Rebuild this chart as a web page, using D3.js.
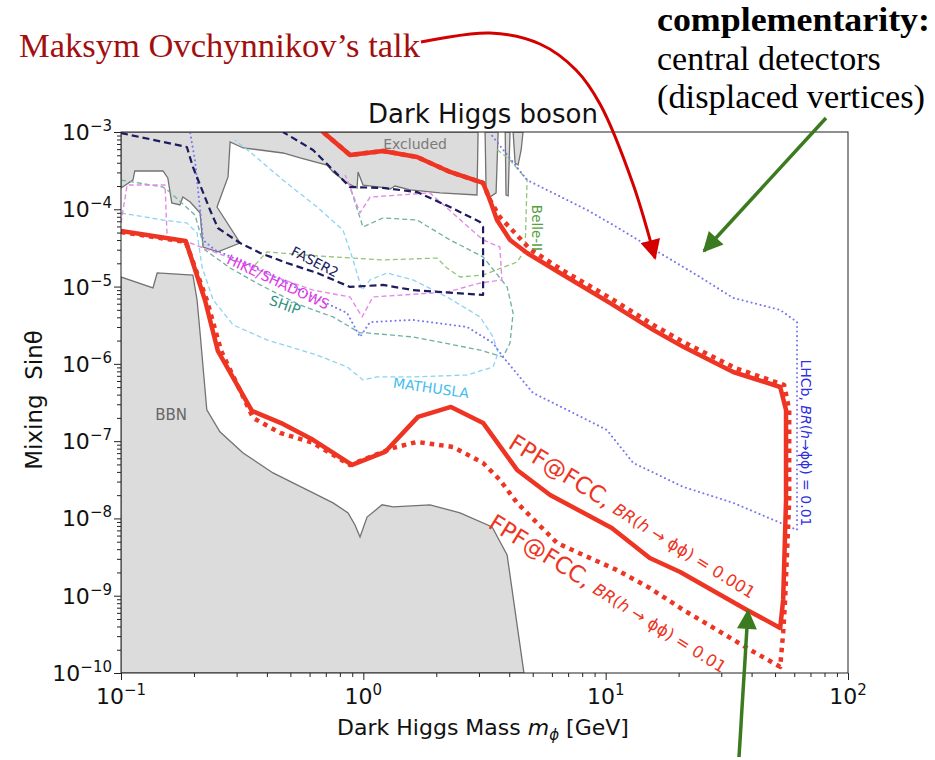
<!DOCTYPE html>
<html>
<head>
<meta charset="utf-8">
<script src="https://cdn.jsdelivr.net/npm/d3@7"></script>
<style>
  body { margin: 0; background: #fff; }
  svg { display: block; font-family: "DejaVu Sans", sans-serif; }
</style>
</head>
<body>
<svg id="chart" width="935" height="760"></svg>
<script>
// ---- data: [mass GeV, mixing sin(theta)] ----
const fpfSolid = [
  [0.682, 1.0e-3], [0.881, 5.04e-4], [1.205, 5.68e-4], [1.666, 4.75e-4], [2.28, 3.04e-4],
  [3.12, 2.19e-4], [3.33, 1.32e-4], [3.56, 7.27e-5], [4.03, 4.01e-5], [4.74, 2.72e-5],
  [6.48, 1.50e-5], [10.4, 6.14e-6], [15.7, 2.75e-6], [20.9, 1.66e-6], [33.6, 7.85e-7],
  [52.5, 5.02e-7], [55.5, 2.54e-7], [55.5, 1.73e-8], [54.0, 8.83e-10], [52.5, 3.83e-10],
  [38.3, 6.55e-10], [20.3, 2.03e-9], [15.2, 3.08e-9], [10.6, 7.53e-9], [5.90, 2.01e-8],
  [4.31, 4.24e-8], [3.12, 1.72e-7], [2.30, 2.77e-7], [1.681, 2.06e-7], [1.229, 7.25e-8],
  [0.898, 4.92e-8], [0.620, 1.04e-7], [0.466, 1.67e-7], [0.347, 2.46e-7], [0.251, 1.47e-6],
  [0.222, 6.71e-6], [0.185, 3.89e-5], [0.1, 5.24e-5]
];
const fpfDotted = [
  [0.1, 5.08e-5], [0.185, 3.78e-5], [0.226, 6.71e-6], [0.259, 1.47e-6], [0.351, 2.00e-7],
  [0.453, 1.28e-7], [0.620, 9.48e-8], [0.881, 4.92e-8], [1.327, 8.17e-8], [1.666, 9.77e-8],
  [2.345, 8.41e-8], [3.12, 5.22e-8], [3.66, 3.15e-8], [4.31, 1.59e-8], [5.21, 8.75e-9],
  [6.30, 4.82e-9], [8.07, 3.37e-9], [11.1, 2.16e-9], [15.2, 1.26e-9], [20.9, 6.55e-10],
  [28.8, 3.61e-10], [39.5, 1.99e-10], [52.5, 1.20e-10], [54.0, 3.30e-10], [55.0, 8.83e-10],
  [57.2, 1.73e-8], [57.2, 2.54e-7], [54.5, 5.33e-7], [34.2, 8.85e-7], [21.3, 1.86e-6],
  [16.0, 3.09e-6], [10.6, 6.92e-6], [6.61, 1.64e-5], [4.88, 3.04e-5], [3.66, 7.95e-5],
  [3.33, 1.32e-4], [3.12, 2.19e-4], [2.28, 3.04e-4], [1.666, 4.75e-4], [1.205, 5.68e-4],
  [0.881, 5.04e-4], [0.682, 1.0e-3]
];
const excludedRegion = [
  [0.1, 1e-3], [0.1, 1.89e-4], [0.112, 2.39e-4], [0.114, 3.13e-4], [0.149, 3.13e-4],
  [0.156, 2.54e-4], [0.162, 1.21e-4], [0.175, 1.14e-4], [0.180, 1.44e-4], [0.193, 1.24e-4],
  [0.212, 8.96e-5], [0.218, 3.25e-5], [0.251, 2.81e-5], [0.310, 3.66e-5], [0.249, 1.07e-4],
  [0.2765, 2.62e-4], [0.282, 7.43e-4], [0.319, 6.21e-4], [0.375, 5.85e-4], [0.466, 5.35e-4],
  [0.548, 4.61e-4], [0.708, 3.74e-4], [0.750, 3.04e-4], [0.857, 2.19e-4], [0.942, 1.89e-4],
  [0.951, 3.04e-4], [0.997, 2.06e-4], [1.172, 1.94e-4], [1.289, 1.83e-4], [1.352, 2.0e-4],
  [1.560, 1.78e-4], [2.073, 1.63e-4], [2.945, 1.53e-4], [2.975, 1e-3]
];
const excludedSpikes = [
  [[3.18, 1e-3], [3.21, 1.78e-4], [3.33, 1.44e-4], [3.53, 1.63e-4], [3.60, 1e-3]],
  [[3.85, 1e-3], [3.88, 1.53e-4], [3.96, 1.49e-4], [4.03, 1e-3]],
  [[4.15, 1e-3], [4.23, 3.97e-4], [4.35, 3.74e-4], [4.48, 5.85e-4], [4.56, 1e-3]]
];
const bbnRegion = [
  [0.1, 1e-10], [0.1, 1.33e-5], [0.1355, 9.6e-6], [0.141, 1.50e-5], [0.198, 1.41e-5],
  [0.206, 6.71e-6], [0.212, 2.51e-6], [0.226, 2.54e-7], [0.256, 1.32e-7], [0.319, 7.04e-8],
  [0.424, 3.88e-8], [0.586, 2.34e-8], [0.750, 1.59e-8], [0.865, 1.18e-8], [0.924, 8.24e-9],
  [0.969, 5.77e-9], [1.036, 1.04e-8], [1.195, 1.50e-8], [1.327, 1.41e-8], [1.884, 1.50e-8],
  [2.506, 1.18e-8], [3.40, 7.76e-9], [3.92, 3.37e-9], [4.60, 1e-10]
];
const faser2 = [
  [0.1, 9.7e-4], [0.187, 6.40e-4], [0.198, 3.53e-4], [0.212, 2.06e-4], [0.233, 9.8e-5],
  [0.251, 5.73e-5], [0.310, 3.66e-5], [0.375, 2.72e-5], [0.484, 2.02e-5], [0.644, 1.50e-5],
  [0.881, 9.9e-6], [1.205, 1.05e-5], [1.603, 9.0e-6], [3.12, 7.78e-6], [3.12, 5.90e-5],
  [3.03, 6.85e-5], [2.28, 1.07e-4], [1.666, 1.67e-4], [1.205, 1.89e-4], [0.881, 1.94e-4],
  [0.750, 3.22e-4], [0.620, 5.85e-4], [0.466, 1e-3]
];
const hikeShadows = [
  [0.1, 6.65e-5], [0.106, 2.06e-4], [0.152, 2.06e-4], [0.155, 4.38e-5], [0.193, 3.66e-5],
  [0.282, 2.34e-5], [0.412, 1.41e-5], [0.620, 9.0e-6], [0.881, 7.34e-6], [0.988, 4.05e-6],
  [1.096, 7.34e-6], [2.215, 8.5e-6], [3.03, 1.11e-5], [3.73, 1.22e-5], [3.66, 3.25e-5],
  [3.12, 4.01e-5], [2.437, 7.95e-5], [1.884, 1.63e-4], [1.066, 1.44e-4], [0.969, 8.96e-5],
  [0.881, 1.94e-4], [0.841, 2.78e-4]
];
const ship = [
  [0.1, 2.39e-4], [0.149, 1.94e-4], [0.159, 1.67e-4], [0.202, 8.44e-5], [0.222, 2.98e-5],
  [0.282, 1.74e-5], [0.375, 1.05e-5], [0.548, 5.78e-6], [0.750, 4.05e-6], [0.969, 2.51e-6],
  [1.036, 2.51e-6], [1.603, 2.23e-6], [3.03, 1.51e-6], [3.77, 1.23e-6], [4.03, 1.86e-6],
  [4.15, 4.55e-6], [3.92, 9.9e-6], [3.12, 2.42e-5], [2.28, 4.01e-5], [1.666, 7.27e-5],
  [1.205, 7.72e-5], [0.997, 5.90e-5], [0.881, 1.94e-4]
];
const mathusla = [
  [0.1, 8.96e-5], [0.149, 7.27e-5], [0.187, 6.65e-5], [0.206, 4.94e-5], [0.216, 1.79e-5],
  [0.240, 6.71e-6], [0.290, 3.19e-6], [0.400, 2.04e-6], [0.644, 1.30e-6], [0.857, 9.12e-7],
  [0.997, 6.19e-7], [1.139, 6.77e-7], [1.603, 6.77e-7], [2.68, 7.18e-7], [3.43, 9.12e-7],
  [3.60, 1.38e-6], [3.43, 2.23e-6], [3.03, 4.05e-6], [2.215, 7.34e-6], [1.603, 1.22e-5],
  [1.253, 1.50e-5], [1.066, 1.22e-5], [0.988, 9.0e-6], [0.907, 2.21e-5], [0.824, 5.40e-5],
  [0.644, 1.07e-4], [0.466, 2.39e-4], [0.341, 5.51e-4], [0.295, 7.88e-4]
];
const belle2 = [
  [0.357, 1.90e-5], [0.400, 2.81e-5], [0.644, 2.49e-5], [1.205, 2.21e-5], [2.014, 2.34e-5],
  [2.215, 1.74e-5], [2.506, 1.33e-5], [3.12, 1.41e-5], [4.31, 2.08e-5], [4.65, 2.98e-5],
  [4.74, 2.39e-4], [4.03, 4.34e-4], [3.50, 6.21e-4]
];
const lhcb = [
  [0.193, 9.7e-4], [0.202, 4.34e-4], [0.212, 9.8e-5], [0.218, 4.01e-5], [0.244, 2.98e-5],
  [0.341, 1.90e-5], [0.475, 1.15e-5], [0.620, 7.34e-6], [0.857, 4.55e-6], [0.969, 2.23e-6],
  [1.066, 3.48e-6], [1.603, 3.70e-6], [2.68, 3.00e-6], [3.43, 1.86e-6], [3.77, 1.23e-6],
  [5.01, 4.21e-7], [6.93, 2.54e-7], [10.1, 1.40e-7], [13.0, 5.22e-8], [20.9, 2.56e-8],
  [33.6, 1.59e-8], [61.6, 7.10e-9], [61.6, 3.48e-6], [52.5, 4.98e-6], [33.6, 7.13e-6],
  [24.5, 1.33e-5], [10.4, 6.65e-5], [8.38, 9.8e-5], [4.74, 2.39e-4], [3.33, 9.7e-4]
];

const xTickExps = [-1, 0, 1, 2];
const yTickExps = [-10, -9, -8, -7, -6, -5, -4, -3];

// ---- layout ----
const L = 121, R = 848, T = 132, B = 673;
const RED = "#ee3524";
const GREY_FILL = "#dcdcdc", GREY_EDGE = "#727272";

const svg = d3.select("#chart");
const x = d3.scaleLog().domain([0.1, 100]).range([L, R]);
const y = d3.scaleLog().domain([1e-10, 1e-3]).range([B, T]);
const line = d3.line().x(d => x(d[0])).y(d => y(d[1]));

svg.append("defs").append("clipPath").attr("id", "plot")
  .append("rect").attr("x", L).attr("y", T).attr("width", R - L).attr("height", B - T);

const defs = svg.select("defs");
[["arrRed", "#d40000"], ["arrGreen", "#3b7a1f"]].forEach(([id, c]) => {
  defs.append("marker").attr("id", id)
    .attr("viewBox", "0 0 10 10").attr("refX", 9).attr("refY", 5)
    .attr("markerUnits", "userSpaceOnUse")
    .attr("markerWidth", 26).attr("markerHeight", 20)
    .attr("orient", "auto")
    .append("path").attr("d", "M0,0 L10,5 L0,10 z").attr("fill", c);
});

const g = svg.append("g").attr("clip-path", "url(#plot)");

// ---- grey regions ----
g.append("path").attr("d", line(excludedRegion) + "Z")
  .attr("fill", GREY_FILL).attr("stroke", GREY_EDGE).attr("stroke-width", 1.3);
excludedSpikes.forEach(s => {
  g.append("path").attr("d", line(s) + "Z")
    .attr("fill", GREY_FILL).attr("stroke", GREY_EDGE).attr("stroke-width", 1.3);
});
g.append("path").attr("d", line(bbnRegion) + "Z")
  .attr("fill", GREY_FILL).attr("stroke", GREY_EDGE).attr("stroke-width", 1.3);

// ---- other experiments ----
function curve(data, color, width, dash, cap) {
  g.append("path").datum(data)
    .attr("fill", "none").attr("stroke", color)
    .attr("stroke-width", width).attr("stroke-dasharray", dash)
    .attr("stroke-linecap", cap || "butt").attr("stroke-linejoin", "round")
    .attr("d", line);
}
curve(mathusla, "#8ed3f2", 1.3, "5 3");
curve(ship, "#6fb0a2", 1.3, "5 3");
curve(belle2, "#92c47c", 1.3, "5 3");
curve(hikeShadows, "#e48be8", 1.4, "5 3");
curve(lhcb, "#7878ee", 2, "0.1 4.5", "round");
curve(faser2, "#1c1c5e", 2.2, "7 4");

// ---- FPF@FCC ----
curve(fpfDotted, RED, 4.5, "4.5 5");
curve(fpfSolid, RED, 4.5, null, "round");

// ---- frame & ticks ----
svg.append("rect").attr("x", L).attr("y", T).attr("width", R - L).attr("height", B - T)
  .attr("fill", "none").attr("stroke", "#222").attr("stroke-width", 1);

const xMinor = [], yMinor = [];
xTickExps.slice(0, -1).forEach(e => { for (let k = 2; k < 10; k++) xMinor.push(k * Math.pow(10, e)); });
yTickExps.slice(0, -1).forEach(e => { for (let k = 2; k < 10; k++) yMinor.push(k * Math.pow(10, e)); });

function tickStyle(sel) {
  sel.select(".domain").remove();
  sel.selectAll("line").attr("stroke", "#222");
}
svg.append("g").attr("transform", `translate(0,${B})`)
  .call(d3.axisBottom(x).tickValues(xMinor).tickSize(4).tickFormat("")).call(tickStyle);
svg.append("g").attr("transform", `translate(0,${B})`)
  .call(d3.axisBottom(x).tickValues(xTickExps.map(e => Math.pow(10, e))).tickSize(7).tickFormat("")).call(tickStyle);
svg.append("g").attr("transform", `translate(${L},0)`)
  .call(d3.axisLeft(y).tickValues(yMinor).tickSize(4).tickFormat("")).call(tickStyle);
svg.append("g").attr("transform", `translate(${L},0)`)
  .call(d3.axisLeft(y).tickValues(yTickExps.map(e => Math.pow(10, e))).tickSize(7).tickFormat("")).call(tickStyle);

function powLabel(px, py, e, anchor) {
  const t = svg.append("text").attr("x", px).attr("y", py)
    .attr("text-anchor", anchor).attr("font-size", 22).attr("fill", "#111");
  t.append("tspan").text("10");
  t.append("tspan").attr("dy", -9).attr("font-size", 15).text(e < 0 ? "\u2212" + (-e) : String(e));
}
xTickExps.forEach(e => powLabel(x(Math.pow(10, e)), 704, e, "middle"));
yTickExps.forEach(e => powLabel(112, y(Math.pow(10, e)) + 8, e, "end"));

// axis titles
const xl = svg.append("text").attr("x", 483).attr("y", 735)
  .attr("text-anchor", "middle").attr("font-size", 22).attr("fill", "#111")
  .style("white-space", "pre");
xl.append("tspan").text("Dark Higgs Mass ");
xl.append("tspan").attr("font-style", "italic").text("m");
xl.append("tspan").attr("font-size", 15).attr("dy", 5).attr("font-style", "italic").text("\u03d5");
xl.append("tspan").attr("dy", -5).text(" [GeV]");

svg.append("text").attr("transform", "translate(42,400) rotate(-90)")
  .attr("text-anchor", "middle").attr("font-size", 23).attr("fill", "#111")
  .style("white-space", "pre").text("Mixing  Sin\u03b8");

svg.append("text").attr("x", 483).attr("y", 123).attr("text-anchor", "middle")
  .attr("font-size", 26).attr("fill", "#111").text("Dark Higgs boson");

// ---- curve labels ----
function label(mx, my, rot, txt, size, color) {
  svg.append("text")
    .attr("transform", `translate(${x(mx)},${y(my)}) rotate(${rot})`)
    .attr("text-anchor", "middle").attr("dominant-baseline", "central")
    .attr("font-size", size).attr("fill", color).text(txt);
}
label(1.635, 7.0e-4, 0, "Excluded", 14, "#7a7a7a");
label(0.632, 2.1e-5, 27, "FASER2", 13.5, "#1c1c5e");
label(0.445, 1.15e-5, 25, "HIKE/SHADOWS", 14, "#e03ce6");
label(0.475, 5.78e-6, 20, "SHiP", 14, "#2f8f80");
label(1.903, 4.88e-7, 8, "MATHUSLA", 14, "#45bdee");
label(5.21, 5.73e-5, 90, "Belle-II", 13.5, "#56a03f");
label(0.161, 2.18e-7, 0, "BBN", 15, "#666");

const lh = svg.append("text")
  .attr("transform", `translate(${x(67.1)},${y(9.48e-8)}) rotate(90)`)
  .attr("text-anchor", "middle").attr("dominant-baseline", "central")
  .attr("font-size", 14).attr("fill", "#2f2fe0");
lh.append("tspan").text("LHCb, ");
lh.append("tspan").attr("font-style", "italic").text("BR");
lh.append("tspan").text("(");
lh.append("tspan").attr("font-style", "italic").text("h");
lh.append("tspan").text("\u2192\u03d5\u03d5) = 0.01");

function fpfLabel(mx, my, br) {
  const t = svg.append("text")
    .attr("transform", `translate(${x(mx)},${y(my)}) rotate(32)`)
    .attr("fill", RED).style("white-space", "pre");
  t.append("tspan").attr("font-size", 23).text("FPF@FCC, ");
  t.append("tspan").attr("font-size", 16.5).attr("font-style", "italic").text("BR");
  t.append("tspan").attr("font-size", 16.5).text("(");
  t.append("tspan").attr("font-size", 16.5).attr("font-style", "italic").text("h");
  t.append("tspan").attr("font-size", 16.5).text(" \u2192 \u03d5\u03d5) = " + br);
}
fpfLabel(3.92, 8.4e-8, "0.001");
fpfLabel(3.24, 7.76e-9, "0.01");

// ---- slide annotations ----
svg.append("text").attr("x", 19).attr("y", 57)
  .attr("font-family", "'Liberation Serif', serif").attr("font-size", 34)
  .attr("textLength", 401).attr("lengthAdjust", "spacingAndGlyphs")
  .attr("fill", "#a30f0f").text("Maksym Ovchynnikov\u2019s talk");

const side = svg.append("g").attr("font-family", "'Liberation Serif', serif")
  .attr("font-size", 34).attr("fill", "#000");
side.append("text").attr("x", 657).attr("y", 31).attr("font-weight", "bold")
  .attr("textLength", 273).attr("lengthAdjust", "spacingAndGlyphs").text("complementarity:");
side.append("text").attr("x", 657).attr("y", 70).text("central detectors");
side.append("text").attr("x", 657).attr("y", 108)
  .attr("textLength", 268).attr("lengthAdjust", "spacingAndGlyphs").text("(displaced vertices)");

const arrowLine = d3.line().curve(d3.curveCatmullRom);
svg.append("path")
  .attr("d", arrowLine([[421, 42], [490, 33], [540, 44], [576, 70], [600, 104], [633, 184], [655, 258]]))
  .attr("fill", "none").attr("stroke", "#d40000").attr("stroke-width", 3)
  .attr("marker-end", "url(#arrRed)");
svg.append("path").attr("d", "M826,118 L704,251")
  .attr("stroke", "#3b7a1f").attr("stroke-width", 3.5).attr("marker-end", "url(#arrGreen)");
svg.append("path").attr("d", "M739,757 L748,611")
  .attr("stroke", "#3b7a1f").attr("stroke-width", 3.5).attr("marker-end", "url(#arrGreen)");
</script>
</body>
</html>
